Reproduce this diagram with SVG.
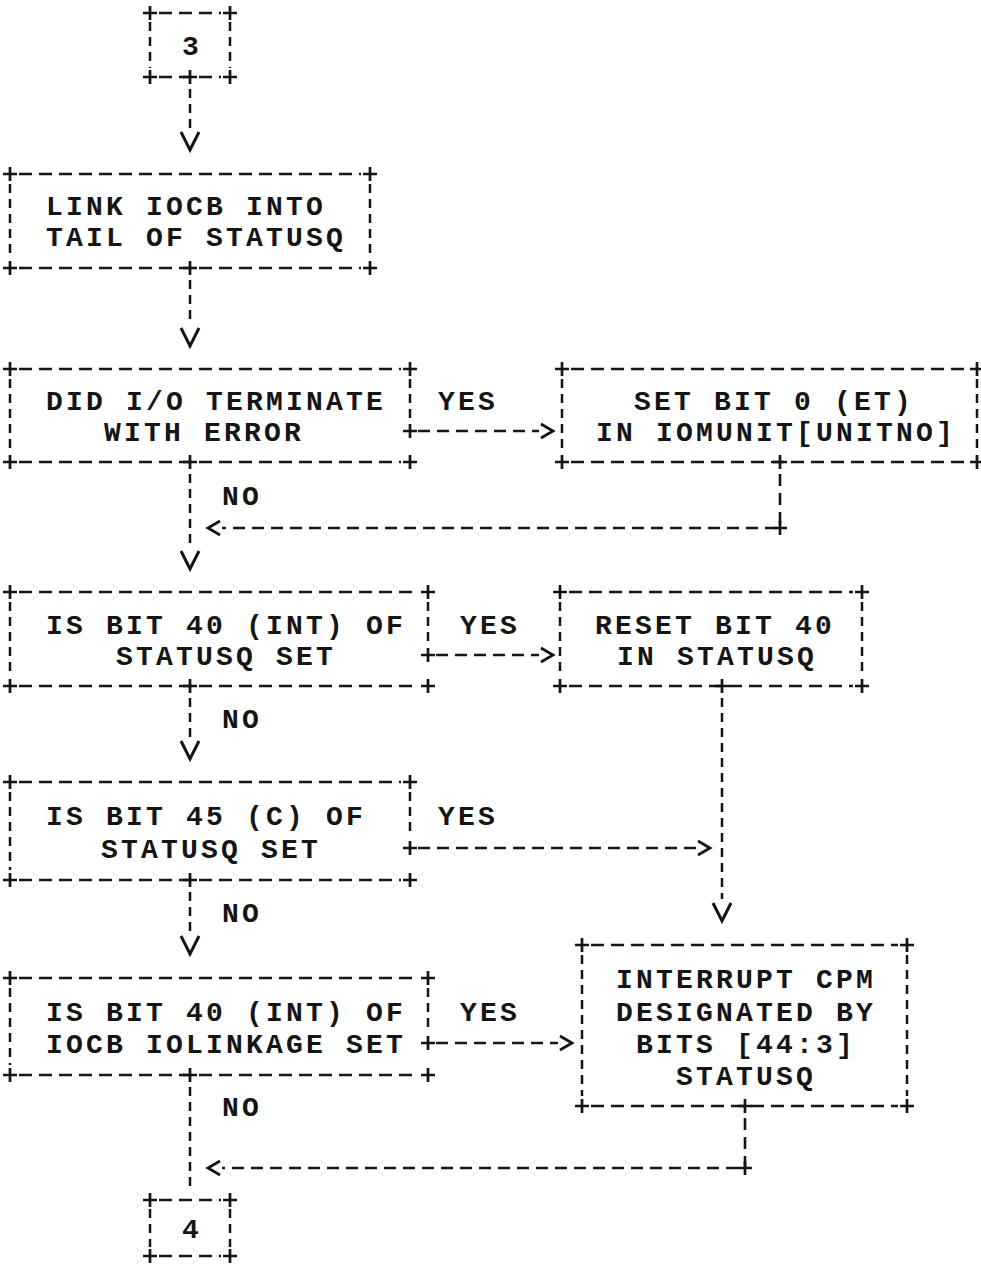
<svg xmlns="http://www.w3.org/2000/svg" xmlns:xlink="http://www.w3.org/1999/xlink" width="981" height="1277" viewBox="0 0 981 1277">
<style>
.t{font-family:"Liberation Mono","DejaVu Sans Mono",monospace;font-size:28px;font-weight:bold;letter-spacing:3.2px;fill:#151515}
.h{stroke:#151515;stroke-width:2.7;stroke-dasharray:13 7;fill:none}
.v{stroke:#151515;stroke-width:2.5;stroke-dasharray:9 6;fill:none}
.c{stroke:#151515;stroke-width:2.6;stroke-dasharray:12 7;fill:none}
</style>
<defs>
<path id="plus" d="M-7,0H7M0,-7V7" stroke="#151515" stroke-width="2.7" fill="none"/>
<marker id="chev" markerUnits="userSpaceOnUse" markerWidth="20" markerHeight="20" orient="auto" overflow="visible">
<path d="M2,-7 L14,0 L2,7" fill="none" stroke="#151515" stroke-width="2.8" stroke-dasharray="none"/>
</marker>
<marker id="vee" markerUnits="userSpaceOnUse" markerWidth="30" markerHeight="30" orient="auto" overflow="visible">
<path d="M4,-9 L22,0 L4,9" fill="none" stroke="#151515" stroke-width="3" stroke-dasharray="none"/>
</marker>
</defs>
<rect width="981" height="1277" fill="#ffffff"/>

<g id="n3">
<path class="h" d="M159,13H221M159,77H221"/>
<path class="v" d="M150,22V68M230,22V68"/>
<use href="#plus" x="150" y="13"/><use href="#plus" x="230" y="13"/>
<use href="#plus" x="150" y="77"/><use href="#plus" x="190" y="77"/><use href="#plus" x="230" y="77"/>
<text class="t" x="192" y="55" text-anchor="middle">3</text>
</g>

<g id="nLink">
<path class="h" d="M19,174H361M19,268H361"/>
<path class="v" d="M10,184V258M370,184V258"/>
<use href="#plus" x="10" y="174"/><use href="#plus" x="370" y="174"/>
<use href="#plus" x="10" y="268"/><use href="#plus" x="190" y="268"/><use href="#plus" x="370" y="268"/>
<text class="t" x="46" y="215">LINK IOCB INTO</text>
<text class="t" x="46" y="246">TAIL OF STATUSQ</text>
</g>

<g id="nDid">
<path class="h" d="M19,369H401M19,462H401"/>
<path class="v" d="M10,379V452M410,379V420"/>
<use href="#plus" x="10" y="369"/><use href="#plus" x="410" y="369"/>
<use href="#plus" x="10" y="462"/><use href="#plus" x="190" y="462"/><use href="#plus" x="410" y="462"/>
<text class="t" x="46" y="410">DID I/O TERMINATE</text>
<text class="t" x="104" y="441">WITH ERROR</text>
</g>

<g id="nSet">
<path class="h" d="M571,369H968M571,462H968"/>
<path class="v" d="M562,379V452M977,379V452"/>
<use href="#plus" x="562" y="369"/><use href="#plus" x="977" y="369"/>
<use href="#plus" x="562" y="462"/><use href="#plus" x="780" y="462"/><use href="#plus" x="977" y="462"/>
<text class="t" x="634" y="410">SET BIT 0 (ET)</text>
<text class="t" x="596" y="441">IN IOMUNIT[UNITNO]</text>
</g>

<g id="nIs40">
<path class="h" d="M19,592H419M19,686H419"/>
<path class="v" d="M10,602V676M428,602V644"/>
<use href="#plus" x="10" y="592"/><use href="#plus" x="428" y="592"/>
<use href="#plus" x="10" y="686"/><use href="#plus" x="190" y="686"/><use href="#plus" x="428" y="686"/>
<text class="t" x="46" y="634">IS BIT 40 (INT) OF</text>
<text class="t" x="116" y="665">STATUSQ SET</text>
</g>

<g id="nReset">
<path class="h" d="M569,592H853M569,686H853"/>
<path class="v" d="M560,602V676M862,602V676"/>
<use href="#plus" x="560" y="592"/><use href="#plus" x="862" y="592"/>
<use href="#plus" x="560" y="686"/><use href="#plus" x="722" y="686"/><use href="#plus" x="862" y="686"/>
<text class="t" x="595" y="634">RESET BIT 40</text>
<text class="t" x="617" y="665">IN STATUSQ</text>
</g>

<g id="nIs45">
<path class="h" d="M19,782H401M19,880H401"/>
<path class="v" d="M10,792V870M410,792V837"/>
<use href="#plus" x="10" y="782"/><use href="#plus" x="410" y="782"/>
<use href="#plus" x="10" y="880"/><use href="#plus" x="190" y="880"/><use href="#plus" x="410" y="880"/>
<text class="t" x="46" y="825">IS BIT 45 (C) OF</text>
<text class="t" x="101" y="858">STATUSQ SET</text>
</g>

<g id="nIolink">
<path class="h" d="M19,978H419M19,1075H419"/>
<path class="v" d="M10,988V1065M428,988V1032"/>
<use href="#plus" x="10" y="978"/><use href="#plus" x="428" y="978"/>
<use href="#plus" x="10" y="1075"/><use href="#plus" x="190" y="1075"/><use href="#plus" x="428" y="1075"/>
<text class="t" x="46" y="1021">IS BIT 40 (INT) OF</text>
<text class="t" x="46" y="1053">IOCB IOLINKAGE SET</text>
</g>

<g id="nInterrupt">
<path class="h" d="M591,945H898M591,1106H898"/>
<path class="v" d="M582,955V1096M907,955V1096"/>
<use href="#plus" x="582" y="945"/><use href="#plus" x="907" y="945"/>
<use href="#plus" x="582" y="1106"/><use href="#plus" x="745" y="1106"/><use href="#plus" x="907" y="1106"/>
<text class="t" x="616" y="988">INTERRUPT CPM</text>
<text class="t" x="616" y="1021">DESIGNATED BY</text>
<text class="t" x="636" y="1053">BITS [44:3]</text>
<text class="t" x="676" y="1085">STATUSQ</text>
</g>

<g id="n4">
<path class="h" d="M159,1200H221M159,1256H221"/>
<path class="v" d="M150,1209V1247M230,1209V1247"/>
<use href="#plus" x="150" y="1200"/><use href="#plus" x="230" y="1200"/>
<use href="#plus" x="150" y="1256"/><use href="#plus" x="230" y="1256"/>
<text class="t" x="192" y="1238" text-anchor="middle">4</text>
</g>

<g id="connectors">
<path class="v" d="M190,89V128" marker-end="url(#vee)"/>
<path class="v" d="M190,280V324" marker-end="url(#vee)"/>
<use href="#plus" x="410" y="431"/>
<path class="c" d="M418,431H539" marker-end="url(#chev)"/>
<text class="t" x="438" y="410">YES</text>
<path class="c" d="M780,474V528H222" marker-end="url(#chev)"/>
<use href="#plus" x="780" y="528"/>
<path class="v" d="M190,474V547" marker-end="url(#vee)"/>
<text class="t" x="222" y="505">NO</text>
<use href="#plus" x="428" y="655"/>
<path class="c" d="M436,655H539" marker-end="url(#chev)"/>
<text class="t" x="460" y="634">YES</text>
<path class="v" d="M190,698V737" marker-end="url(#vee)"/>
<text class="t" x="222" y="728">NO</text>
<path class="v" d="M722,698V899" marker-end="url(#vee)"/>
<use href="#plus" x="410" y="848"/>
<path class="c" d="M418,848H696" marker-end="url(#chev)"/>
<text class="t" x="438" y="825">YES</text>
<path class="v" d="M190,892V932" marker-end="url(#vee)"/>
<text class="t" x="222" y="922">NO</text>
<use href="#plus" x="428" y="1043"/>
<path class="c" d="M436,1043H558" marker-end="url(#chev)"/>
<text class="t" x="460" y="1021">YES</text>
<path class="v" d="M190,1087V1190"/>
<text class="t" x="222" y="1116">NO</text>
<path class="c" d="M745,1118V1168H222" marker-end="url(#chev)"/>
<use href="#plus" x="745" y="1168"/>
</g>
</svg>
